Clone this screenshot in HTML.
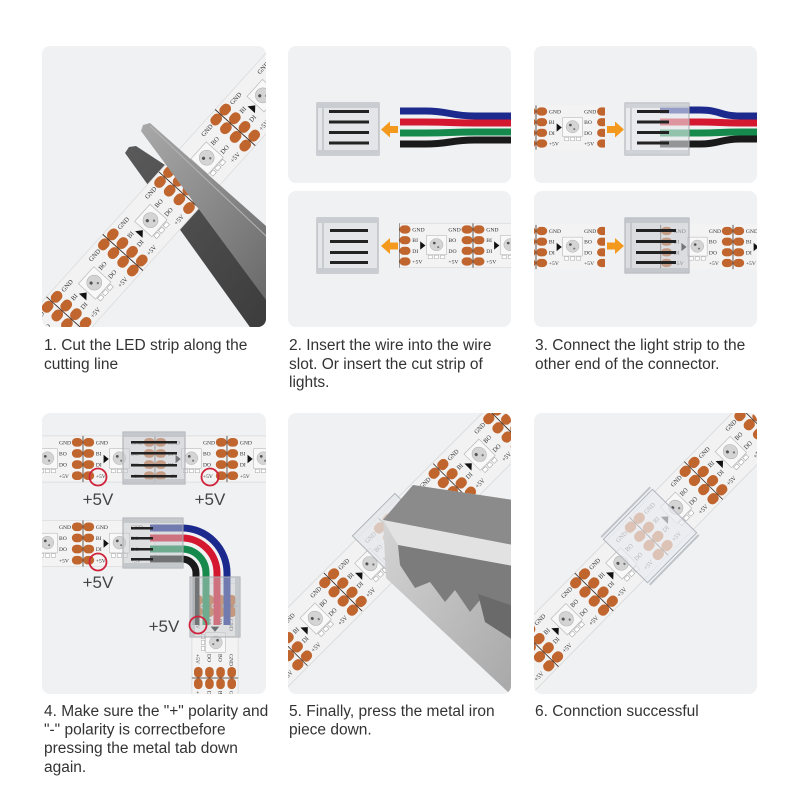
<!DOCTYPE html>
<html><head><meta charset="utf-8"><style>
html,body{margin:0;padding:0;background:#fff;width:800px;height:800px;overflow:hidden}
svg{display:block}
.cap{font-family:"Liberation Sans",Arial,sans-serif;font-size:15.5px;fill:#333}
.v5{font-family:"Liberation Sans",Arial,sans-serif;font-size:17px;fill:#444}
</style></head><body>
<svg width="800" height="800" viewBox="0 0 800 800" xmlns="http://www.w3.org/2000/svg">
<defs>
 <clipPath id="c1"><rect x="42" y="46" width="224" height="281" rx="8"/></clipPath>
 <clipPath id="c2a"><rect x="288" y="46" width="223" height="137" rx="8"/></clipPath>
 <clipPath id="c2b"><rect x="288" y="191" width="223" height="136" rx="8"/></clipPath>
 <clipPath id="c3a"><rect x="534" y="46" width="223" height="137" rx="8"/></clipPath>
 <clipPath id="c3b"><rect x="534" y="191" width="223" height="136" rx="8"/></clipPath>
 <clipPath id="c4"><rect x="42" y="413" width="224" height="281" rx="8"/></clipPath>
 <clipPath id="c5"><rect x="288" y="413" width="223" height="281" rx="8"/></clipPath>
 <clipPath id="c6"><rect x="534" y="413" width="223" height="281" rx="8"/></clipPath>
 <clipPath id="p3l"><rect x="533" y="100" width="72" height="60"/></clipPath>
 <clipPath id="p3lb"><rect x="533" y="215" width="72" height="60"/></clipPath>
 <clipPath id="p2b"><rect x="399" y="215" width="120" height="60"/></clipPath>
 <clipPath id="p3rb"><rect x="660" y="215" width="120" height="60"/></clipPath>
 <linearGradient id="gl" x1="0" y1="0" x2="1" y2="1">
  <stop offset="0" stop-color="#a9a9a9"/><stop offset="0.5" stop-color="#8a8a8a"/><stop offset="1" stop-color="#6a6a6a"/>
 </linearGradient>
 <linearGradient id="gd" x1="0" y1="0" x2="1" y2="1">
  <stop offset="0" stop-color="#5a5a5a"/><stop offset="1" stop-color="#3c3c3c"/>
 </linearGradient>
 <linearGradient id="gj" x1="0" y1="0" x2="1" y2="1">
  <stop offset="0" stop-color="#d8d8d8"/><stop offset="1" stop-color="#a8a8a8"/>
 </linearGradient>
 <g id="u">
  <g fill="#c0652e">
   <rect x="-13" y="-24.5" width="12.6" height="10" rx="5"/><rect x="0.4" y="-24.5" width="12.6" height="10" rx="5"/>
   <rect x="-13" y="-11.5" width="12.6" height="10" rx="5"/><rect x="0.4" y="-11.5" width="12.6" height="10" rx="5"/>
   <rect x="-13" y="1.5" width="12.6" height="10" rx="5"/><rect x="0.4" y="1.5" width="12.6" height="10" rx="5"/>
   <rect x="-13" y="14.5" width="12.6" height="10" rx="5"/><rect x="0.4" y="14.5" width="12.6" height="10" rx="5"/>
  </g>
  <line x1="0" y1="-27" x2="0" y2="27" stroke="#3b2b22" stroke-width="0.9"/>
  <g font-family="Liberation Serif, serif" font-size="6.5" fill="#333">
   <text x="15" y="-17">GND</text><text x="15" y="-4">BI</text><text x="15" y="9">DI</text><text x="15" y="22">+5V</text>
   <text x="56" y="-17">GND</text><text x="56" y="-4">BO</text><text x="56" y="9">DO</text><text x="56" y="22">+5V</text>
  </g>
  <polygon points="24,-5 30,0 24,5" fill="#111"/>
  <rect x="31" y="-12" width="23" height="23" fill="#f8f8f8" stroke="#b9b9b9" stroke-width="0.7"/>
  <circle cx="42.5" cy="-1" r="7.5" fill="#d4d4d4" stroke="#aaa" stroke-width="0.5"/>
  <circle cx="40" cy="-3" r="1.6" fill="#555"/><circle cx="44.5" cy="2" r="1.2" fill="#777"/>
  <g fill="#fff" stroke="#999" stroke-width="0.5">
   <rect x="33" y="12" width="5" height="4"/><rect x="40" y="12" width="5" height="4"/><rect x="47" y="12" width="5" height="4"/>
  </g>
 </g>
</defs>

<!-- panel backgrounds -->
<g fill="#eff1f3">
 <rect x="42" y="46" width="224" height="281" rx="8"/>
 <rect x="288" y="46" width="223" height="137" rx="8"/>
 <rect x="288" y="191" width="223" height="136" rx="8"/>
 <rect x="534" y="46" width="223" height="137" rx="8"/>
 <rect x="534" y="191" width="223" height="136" rx="8"/>
 <rect x="42" y="413" width="224" height="281" rx="8"/>
 <rect x="288" y="413" width="223" height="281" rx="8"/>
 <rect x="534" y="413" width="223" height="281" rx="8"/>
</g>

<!-- Panel 1 -->
<g clip-path="url(#c1)">
 <polygon points="125,153 129,147 136,146 200,188 266,248 266,330 252,330" fill="url(#gd)"/>
 <g transform="translate(179,190) rotate(-48)">
  <rect x="-260" y="-27" width="520" height="54" fill="#f2f2f2" stroke="#dcdcdc" stroke-width="0.8"/>
  <use href="#u" x="-252"/><use href="#u" x="-168"/><use href="#u" x="-84"/><use href="#u" x="0"/><use href="#u" x="84"/><use href="#u" x="168"/>
 </g>
 <polygon points="141,131 143,125 150,123 266,226 266,300" fill="url(#gl)"/>
 <line x1="150" y1="126" x2="266" y2="236" stroke="#b5b5b5" stroke-width="1"/>
</g>

<!-- Panel 2 top -->
<g clip-path="url(#c2a)">
 <g fill="none" stroke-width="7">
  <path d="M400,111 L425,111 C450,111 450,116 475,116 L515,116" stroke="#1c2a8e"/>
  <path d="M400,122 L425,122 C450,122 450,123 475,123 L515,123" stroke="#d4182f"/>
  <path d="M400,133 L425,133 C450,133 450,132 475,132 L515,132" stroke="#168a4c"/>
  <path d="M400,144 L425,144 C450,144 450,140 475,140 L515,140" stroke="#1a1a1a"/>
 </g>
 <rect x="317" y="103" width="62" height="52" fill="#e3e5e8" stroke="#a8abaf"/>
 <rect x="317" y="103" width="62" height="5" fill="#c9ccd0"/><rect x="317" y="150" width="62" height="5" fill="#c9ccd0"/>
 <line x1="323" y1="108" x2="323" y2="150" stroke="#aeb1b5"/>
 <g fill="#222"><rect x="329" y="110" width="40" height="3"/><rect x="329" y="120.5" width="40" height="3"/><rect x="329" y="131" width="40" height="3"/><rect x="329" y="141.5" width="40" height="3"/></g>
 <polygon points="381,129.5 390,121.5 390,126 398,126 398,133 390,133 390,137.5" fill="#f39a1e"/>
</g>

<!-- Panel 2 bottom -->
<g clip-path="url(#c2b)">
 <g clip-path="url(#p2b)">
  <g transform="translate(473,245.5) scale(0.88,0.82)">
   <rect x="-84" y="-27" width="200" height="54" fill="#f3f3f3" stroke="#dcdcdc"/>
   <use href="#u" x="-84"/><use href="#u" x="0"/><use href="#u" x="84"/>
  </g>
 </g>
 <rect x="317" y="218" width="61" height="55" fill="#e3e5e8" stroke="#a8abaf"/>
 <rect x="317" y="218" width="61" height="5" fill="#c9ccd0"/><rect x="317" y="268" width="61" height="5" fill="#c9ccd0"/>
 <line x1="323" y1="223" x2="323" y2="268" stroke="#aeb1b5"/>
 <g fill="#222"><rect x="330" y="229" width="38" height="3"/><rect x="330" y="240" width="38" height="3"/><rect x="330" y="251" width="38" height="3"/><rect x="330" y="261" width="38" height="3"/></g>
 <polygon points="381,246 390,238 390,242.5 398,242.5 398,249.5 390,249.5 390,254" fill="#f39a1e"/>
</g>

<!-- Panel 3 top -->
<g clip-path="url(#c3a)">
 <g clip-path="url(#p3l)">
  <g transform="translate(536,127.5) scale(0.86,0.82)">
   <rect x="-10" y="-27" width="100" height="54" fill="#f3f3f3"/>
   <use href="#u" x="0"/><use href="#u" x="84"/>
  </g>
 </g>
 <polygon points="624,129.5 615,121.5 615,126 607,126 607,133 615,133 615,137.5" fill="#f39a1e"/>
 <g fill="none" stroke-width="7">
  <path d="M660,110 L700,110 C720,110 720,116 740,116 L760,116" stroke="#1c2a8e"/>
  <path d="M660,122 L700,122 C720,122 720,123 740,123 L760,123" stroke="#d4182f"/>
  <path d="M660,133 L700,133 C720,133 720,132 740,132 L760,132" stroke="#168a4c"/>
  <path d="M660,144 L700,144 C720,144 720,139 740,139 L760,139" stroke="#1a1a1a"/>
 </g>
 <rect x="625" y="103" width="64" height="52" fill="rgba(228,231,235,0.6)" stroke="#a8abaf"/>
 <rect x="625" y="103" width="64" height="5" fill="rgba(200,204,208,0.8)"/><rect x="625" y="150" width="64" height="5" fill="rgba(200,204,208,0.8)"/>
 <line x1="631" y1="108" x2="631" y2="150" stroke="#aeb1b5"/>
 <g fill="#222"><rect x="637" y="110" width="32" height="3"/><rect x="637" y="120.5" width="32" height="3"/><rect x="637" y="131" width="32" height="3"/><rect x="637" y="141.5" width="32" height="3"/></g>
</g>

<!-- Panel 3 bottom -->
<g clip-path="url(#c3b)">
 <g clip-path="url(#p3lb)">
  <g transform="translate(536,247) scale(0.86,0.82)">
   <rect x="-10" y="-27" width="100" height="54" fill="#f3f3f3"/>
   <use href="#u" x="0"/><use href="#u" x="84"/>
  </g>
 </g>
 <polygon points="624,246 615,238 615,242.5 607,242.5 607,249.5 615,249.5 615,254" fill="#f39a1e"/>
 <g clip-path="url(#p3rb)">
  <g transform="translate(733,247) scale(0.86,0.82)">
   <rect x="-90" y="-27" width="160" height="54" fill="#f3f3f3"/>
   <use href="#u" x="-84"/><use href="#u" x="0"/>
  </g>
 </g>
 <rect x="625" y="218" width="64" height="55" fill="rgba(200,203,208,0.55)" stroke="#a8abaf"/>
 <rect x="625" y="218" width="64" height="5" fill="rgba(190,194,198,0.8)"/><rect x="625" y="268" width="64" height="5" fill="rgba(190,194,198,0.8)"/>
 <line x1="631" y1="223" x2="631" y2="268" stroke="#aeb1b5"/>
 <g fill="#222"><rect x="636" y="229" width="40" height="3"/><rect x="636" y="240" width="40" height="3"/><rect x="636" y="251" width="40" height="3"/><rect x="636" y="261" width="40" height="3"/></g>
</g>

<!-- Panel 4 -->
<g clip-path="url(#c4)">
 <g transform="translate(83,459) scale(0.857)">
  <rect x="-110" y="-27" width="340" height="54" fill="#f3f3f3" stroke="#dcdcdc"/>
  <use href="#u" x="-84"/><use href="#u" x="0"/><use href="#u" x="84"/><use href="#u" x="168"/>
 </g>
 <rect x="123" y="432" width="62" height="52" fill="rgba(200,203,208,0.55)" stroke="#a8abaf"/>
 <rect x="123" y="432" width="62" height="5" fill="rgba(190,194,198,0.8)"/><rect x="123" y="479" width="62" height="5" fill="rgba(190,194,198,0.8)"/>
 <g fill="#222"><rect x="131" y="441" width="46" height="2.5"/><rect x="131" y="452" width="46" height="2.5"/><rect x="131" y="464" width="46" height="2.5"/><rect x="131" y="475" width="46" height="2.5"/></g>
 <g fill="none" stroke="#d0223a" stroke-width="1.8"><circle cx="98" cy="477" r="8.5"/><circle cx="210" cy="477" r="8.5"/></g>
 <text class="v5" x="98" y="505" text-anchor="middle">+5V</text>
 <text class="v5" x="210" y="505" text-anchor="middle">+5V</text>

 <g transform="translate(83,543.5) scale(0.857)">
  <rect x="-110" y="-27" width="194" height="54" fill="#f3f3f3" stroke="#dcdcdc"/>
  <use href="#u" x="-84"/><use href="#u" x="0"/>
 </g>
 <g transform="translate(215,678) rotate(90) scale(0.857)">
  <rect x="-110" y="-27" width="150" height="54" fill="#f3f3f3" stroke="#dcdcdc"/>
  <use href="#u" x="-84"/><use href="#u" x="0"/>
 </g>
 <g fill="none" stroke-width="7">
  <path d="M150,528 L182,528 A45,45 0 0 1 227,573 L227,625" stroke="#1c2a8e"/>
  <path d="M150,538 L182,538 A35,35 0 0 1 217,573 L217,625" stroke="#d4182f"/>
  <path d="M150,549 L182,549 A24,24 0 0 1 206,573 L206,625" stroke="#168a4c"/>
  <path d="M150,559 L182,559 A14,14 0 0 1 196,573 L196,625" stroke="#1a1a1a"/>
 </g>
 <rect x="123" y="518" width="60" height="50" fill="rgba(200,203,208,0.5)" stroke="#a8abaf"/>
 <rect x="123" y="518" width="60" height="5" fill="rgba(190,194,198,0.8)"/><rect x="123" y="563" width="60" height="5" fill="rgba(190,194,198,0.8)"/>
 <g fill="#222"><rect x="131" y="527" width="22" height="2.5"/><rect x="131" y="537" width="22" height="2.5"/><rect x="131" y="548" width="22" height="2.5"/><rect x="131" y="558" width="22" height="2.5"/></g>
 <rect x="190" y="577" width="50" height="60" fill="rgba(200,203,208,0.5)" stroke="#a8abaf"/>
 <rect x="190" y="577" width="5" height="60" fill="rgba(190,194,198,0.8)"/><rect x="235" y="577" width="5" height="60" fill="rgba(190,194,198,0.8)"/>
 <g fill="none" stroke="#d0223a" stroke-width="1.8"><circle cx="98" cy="562" r="8.5"/><circle cx="198" cy="625" r="8.5"/></g>
 <text class="v5" x="98" y="588" text-anchor="middle">+5V</text>
 <text class="v5" x="164" y="632" text-anchor="middle">+5V</text>
</g>

<!-- Panel 5 -->
<g clip-path="url(#c5)">
 <g transform="translate(343,592) rotate(-45) scale(0.92,1)">
  <rect x="-260" y="-28" width="560" height="56" fill="#f2f2f2" stroke="#dcdcdc"/>
  <use href="#u" x="-252"/><use href="#u" x="-168"/><use href="#u" x="-84"/><use href="#u" x="0"/><use href="#u" x="84"/><use href="#u" x="168"/><use href="#u" x="252"/>
 </g>
 <g transform="translate(397,538) rotate(-45)">
  <rect x="-30" y="-33" width="60" height="66" fill="rgba(228,231,235,0.75)" stroke="#b0b4ba"/>
 </g>
 <polygon points="413,485 513,500 513,690 508,692 386,578 383,520" fill="url(#gj)"/>
 <polygon points="413,485 513,500 513,545 383,520" fill="#8b8b8b"/>
 <polygon points="383,520 513,545 513,566 398,545" fill="#e2e2e2"/>
 <polygon points="398,545 513,566 513,640 480,600 470,612 455,590 445,602 430,582 415,588 400,565" fill="#7c7c7c"/>
 <polygon points="478,594 513,606 513,640 485,622" fill="#6a6a6a"/>
</g>

<!-- Panel 6 -->
<g clip-path="url(#c6)">
 <g transform="translate(594,592) rotate(-45.5) scale(0.93,1)">
  <rect x="-260" y="-27" width="560" height="54" fill="#f2f2f2" stroke="#dcdcdc"/>
  <use href="#u" x="-252"/><use href="#u" x="-168"/><use href="#u" x="-84"/><use href="#u" x="0"/><use href="#u" x="84"/><use href="#u" x="168"/><use href="#u" x="252"/>
 </g>
 <g transform="translate(650,536) rotate(-45.5)">
  <rect x="-35" y="-31" width="70" height="62" fill="rgba(232,235,239,0.7)" stroke="#b0b4ba"/>
  <line x1="-35" y1="-34" x2="35" y2="-34" stroke="#c0c4c9" stroke-width="2"/>
  <line x1="-35" y1="34" x2="35" y2="34" stroke="#c0c4c9" stroke-width="2"/>
 </g>
</g>

<!-- Captions -->
<text class="cap" x="44" y="350">1. Cut the LED strip along the</text>
<text class="cap" x="44" y="369">cutting line</text>
<text class="cap" x="289" y="350">2. Insert the wire into the wire</text>
<text class="cap" x="289" y="369">slot. Or insert the cut strip of</text>
<text class="cap" x="289" y="387">lights.</text>
<text class="cap" x="535" y="350">3. Connect the light strip to the</text>
<text class="cap" x="535" y="369">other end of the connector.</text>
<text class="cap" x="44" y="716">4. Make sure the "+" polarity and</text>
<text class="cap" x="44" y="734.5">"-" polarity is correctbefore</text>
<text class="cap" x="44" y="753">pressing the metal tab down</text>
<text class="cap" x="44" y="772">again.</text>
<text class="cap" x="289" y="716">5. Finally, press the metal iron</text>
<text class="cap" x="289" y="734.5">piece down.</text>
<text class="cap" x="535" y="716">6. Connction successful</text>
</svg>
</body></html>
